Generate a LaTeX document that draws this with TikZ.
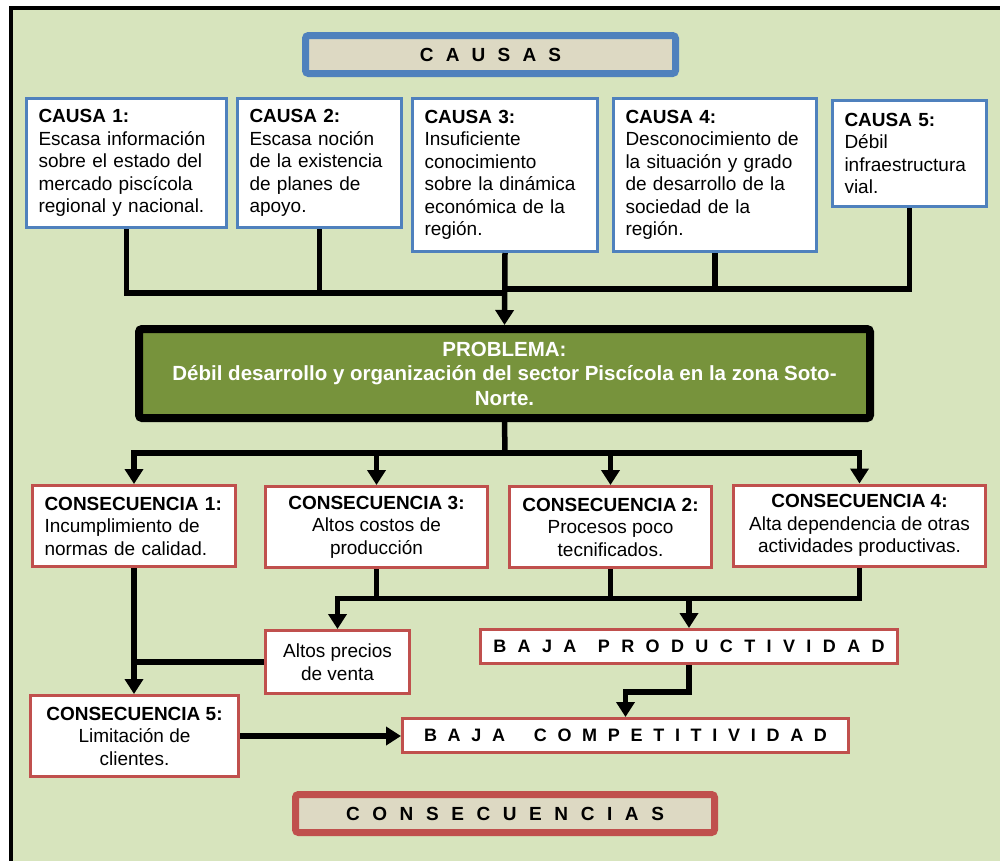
\documentclass[tikz,border=0pt]{standalone}
\usepackage{fontspec}
\setmainfont{Liberation Sans}
\usetikzlibrary{arrows.meta}

\definecolor{bg}{HTML}{D7E4BD}
\definecolor{bluec}{HTML}{4F81BD}
\definecolor{redc}{HTML}{C0504D}
\definecolor{beige}{HTML}{DDD9C3}
\definecolor{probg}{HTML}{77933C}

\tikzset{
  base/.style={draw, fill=white, line width=3pt, inner xsep=12pt, inner ysep=0pt,
               font=\fontsize{19}{22.5}\selectfont},
  cause/.style={base, draw=bluec, align=left},
  cons/.style={base, draw=redc, align=center},
  conl/.style={base, draw=redc, align=left},
  result/.style={base, draw=redc, font=\fontsize{18}{22}\selectfont\bfseries},
  tag/.style={draw, fill=beige, line width=7pt, rounded corners=3pt, inner sep=0pt,
              font=\fontsize{19}{22}\selectfont\bfseries},
  link/.style={line width=5.5pt},
  arr/.style={link, -{Triangle[width=18pt,length=15pt]}},
}

\begin{document}
\begin{tikzpicture}[x=1pt, y=-1pt]
  \useasboundingbox (0,0) rectangle (1000,860);
  % frame
  \draw[line width=3.5pt, fill=bg] (11,8) rectangle (1012,872);

  % header: causes
  \node[tag, draw=bluec, minimum width=370pt, minimum height=38pt] (causas) at (490.5,54.5)
    {\spaceskip=12.2pt\relax C A U S A S};

  % causes
  \node[cause, minimum width=200pt, minimum height=129pt, text width=176pt] (c1) at (126.5,163)
    {\textbf{CAUSA 1:}\\Escasa información\\sobre el estado del\\mercado piscícola\\regional y nacional.};
  \node[cause, minimum width=164pt, minimum height=129pt, text width=140pt] (c2) at (319.5,163)
    {\textbf{CAUSA 2:}\\Escasa noción\\de la existencia\\de planes de\\apoyo.};
  \node[cause, minimum width=185pt, minimum height=153pt, text width=161pt] (c3) at (505,175)
    {\textbf{CAUSA 3:}\\Insuficiente\\conocimiento\\sobre la dinámica\\económica de la\\región.};
  \node[cause, minimum width=203pt, minimum height=153pt, text width=179pt] (c4) at (715,175)
    {\textbf{CAUSA 4:}\\Desconocimiento de\\la situación y grado\\de desarrollo de la\\sociedad de la\\región.};
  \node[cause, minimum width=154pt, minimum height=106pt, text width=130pt] (c5) at (909.5,153.5)
    {\textbf{CAUSA 5:}\\Débil\\infraestructura\\vial.};

  % problem
  \node[draw=black, fill=probg, line width=8pt, rounded corners=3pt, inner sep=0pt,
        minimum width=731pt, minimum height=89pt, text=white, align=center,
        font=\fontsize{20.5}{24.5}\selectfont\bfseries] (prob) at (504.5,373.5)
    {PROBLEMA:\\Débil desarrollo y organización del sector Piscícola en la zona Soto-\\Norte.};

  % consequences
  \node[conl, minimum width=203pt, minimum height=81pt, text width=179pt] (cc1) at (134,526)
    {\textbf{CONSECUENCIA 1:}\\Incumplimiento de\\normas de calidad.};
  \node[cons, minimum width=222pt, minimum height=81pt] (cc3) at (376.5,527)
    {\textbf{CONSECUENCIA 3:}\\Altos costos de\\producción};
  \node[cons, minimum width=202pt, minimum height=81pt] (cc2) at (610.5,527)
    {\textbf{CONSECUENCIA 2:}\\Procesos poco\\tecnificados.};
  \node[cons, minimum width=252pt, minimum height=81pt] (cc4) at (859.5,525.5)
    {\textbf{CONSECUENCIA 4:}\\Alta dependencia de otras\\actividades productivas.};
  \node[cons, minimum width=144pt, minimum height=63pt] (alt) at (337.5,662)
    {Altos precios\\de venta};
  \node[cons, minimum width=208pt, minimum height=81pt] (cc5) at (134.5,736)
    {\textbf{CONSECUENCIA 5:}\\Limitación de\\clientes.};
  \node[result, minimum width=417pt, minimum height=34pt] (bp) at (689,646.5)
    {\spaceskip=11.4pt\relax B A J A\hspace{10pt} P R O D U C T I V I D A D};
  \node[result, minimum width=446pt, minimum height=34pt] (bc) at (625.5,735.5)
    {\spaceskip=10.7pt\relax B A J A\hspace{18pt} C O M P E T I T I V I D A D\hspace{12pt}};

  % header: consequences
  \node[tag, draw=redc, minimum width=419pt, minimum height=38pt] (consec) at (505,813.5)
    {\spaceskip=12.6pt\relax C O N S E C U E N C I A S};

  % causes into the problem
  \coordinate (jl) at (505,293);
  \coordinate (jr) at (505,289);
  \draw[link] (c1.south) |- (jl);
  \draw[link] (c2.south) -- (c2.south |- jl);
  \draw[link] (c5.south) |- (jr);
  \draw[link] (c4.south) -- (c4.south |- jr);
  \draw[arr] (c3.south) -- (prob.north);

  % problem into consequences
  \coordinate (jp) at (505,453);
  \draw[link] (prob.south) -- (jp);
  \draw[arr] (jp) -| (cc1.north);
  \draw[arr] (jp) -| (cc3.north);
  \draw[arr] (jp) -| (cc2.north);
  \draw[arr] (jp) -| (cc4.north);

  % lower bus
  \coordinate (jb) at (689,598.5);
  \draw[link] (cc3.south) |- (jb);
  \draw[link] (cc2.south) -- (cc2.south |- jb);
  \draw[link] (cc4.south) |- (jb);
  \draw[arr] (jb) -- (bp.north);
  \draw[arr] (cc3.south |- jb) -| (alt.north);

  % towards client limitation and competitiveness
  \draw[arr] (cc1.south) -- (cc1.south |- cc5.north);
  \draw[link] (alt.west) -- (alt.west -| cc1.south);
  \coordinate (kb) at (689,692);
  \draw[arr] (bp.south) -- (kb) -| (bc.north);
  \draw[arr] (cc5.east) -- (cc5.east -| bc.west);
\end{tikzpicture}
\end{document}
